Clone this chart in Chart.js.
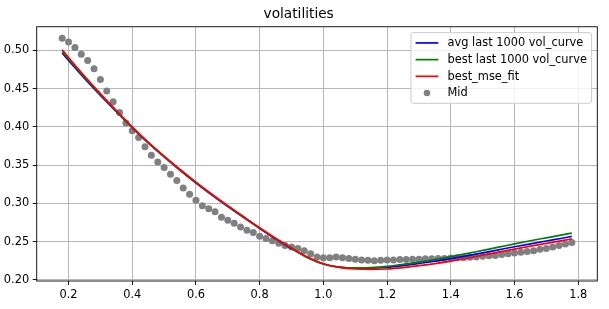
<!DOCTYPE html>
<html>
<head>
<meta charset="utf-8">
<script src="https://cdn.jsdelivr.net/npm/chart.js@4.4.1/dist/chart.umd.min.js"></script>
<style>
  html, body { margin: 0; padding: 0; background: #fff; }
  #wrap { width: 609px; height: 309px; }
</style>
</head>
<body>
<div id="wrap"><canvas id="volChart" width="609" height="309"></canvas></div>
<script>
// volatilities: three fitted vol curves against mid vols

const curveX = [0.18, 0.20, 0.25, 0.30, 0.35, 0.40, 0.45, 0.50, 0.55, 0.60, 0.65, 0.70,
  0.75, 0.80, 0.85, 0.90, 0.95, 1.00, 1.05, 1.10, 1.15, 1.20, 1.25, 1.30,
  1.35, 1.40, 1.45, 1.50, 1.55, 1.60, 1.65, 1.70, 1.75, 1.78];
const avgCurve = [0.4966, 0.4868, 0.4635, 0.4413, 0.4199, 0.3988, 0.3790, 0.3607, 0.3433, 0.3267, 0.3110, 0.2960,
  0.2815, 0.2672, 0.2535, 0.2408, 0.2292, 0.2208, 0.2166, 0.2152, 0.2151, 0.2164, 0.2186, 0.2214,
  0.2244, 0.2277, 0.2314, 0.2353, 0.2393, 0.2433, 0.2471, 0.2508, 0.2544, 0.2568];
const bestCurve = [0.4990, 0.4890, 0.4651, 0.4425, 0.4207, 0.3994, 0.3794, 0.3611, 0.3437, 0.3271, 0.3114, 0.2964,
  0.2819, 0.2676, 0.2539, 0.2412, 0.2294, 0.2208, 0.2168, 0.2157, 0.2160, 0.2177, 0.2203, 0.2233,
  0.2266, 0.2303, 0.2343, 0.2385, 0.2427, 0.2470, 0.2511, 0.2550, 0.2589, 0.2612];
const mseFit = [0.5010, 0.4908, 0.4665, 0.4435, 0.4215, 0.4000, 0.3800, 0.3617, 0.3443, 0.3277, 0.3120, 0.2970,
  0.2825, 0.2682, 0.2545, 0.2418, 0.2298, 0.2210, 0.2163, 0.2142, 0.2136, 0.2142, 0.2160, 0.2185,
  0.2213, 0.2246, 0.2283, 0.2322, 0.2362, 0.2402, 0.2440, 0.2477, 0.2513, 0.2535];

const midX = [0.18, 0.20, 0.22, 0.24, 0.26, 0.28, 0.30, 0.32, 0.34, 0.36,
  0.38, 0.40, 0.42, 0.44, 0.46, 0.48, 0.50, 0.52, 0.54, 0.56,
  0.58, 0.60, 0.62, 0.64, 0.66, 0.68, 0.70, 0.72, 0.74, 0.76,
  0.78, 0.80, 0.82, 0.84, 0.86, 0.88, 0.90, 0.92, 0.94, 0.96,
  0.98, 1.00, 1.02, 1.04, 1.06, 1.08, 1.10, 1.12, 1.14, 1.16,
  1.18, 1.20, 1.22, 1.24, 1.26, 1.28, 1.30, 1.32, 1.34, 1.36,
  1.38, 1.40, 1.42, 1.44, 1.46, 1.48, 1.50, 1.52, 1.54, 1.56,
  1.58, 1.60, 1.62, 1.64, 1.66, 1.68, 1.70, 1.72, 1.74, 1.76, 1.78];
const midVol = [0.516, 0.511, 0.504, 0.495, 0.487, 0.476, 0.462, 0.447, 0.433, 0.419,
  0.405, 0.395, 0.386, 0.374, 0.363, 0.354, 0.347, 0.338, 0.330, 0.320,
  0.312, 0.304, 0.297, 0.293, 0.289, 0.282, 0.278, 0.274, 0.269, 0.265,
  0.262, 0.257, 0.254, 0.251, 0.248, 0.245, 0.243, 0.241, 0.238, 0.234,
  0.230, 0.229, 0.229, 0.230, 0.229, 0.228, 0.227, 0.226, 0.2255, 0.225,
  0.2255, 0.226, 0.226, 0.2265, 0.2265, 0.227, 0.227, 0.2275, 0.2275, 0.228,
  0.228, 0.2285, 0.229, 0.229, 0.2295, 0.230, 0.231, 0.2315, 0.232, 0.233,
  0.234, 0.235, 0.236, 0.237, 0.238, 0.240, 0.241, 0.243, 0.245, 0.247, 0.249];

const xTicks = [0.2, 0.4, 0.6, 0.8, 1.0, 1.2, 1.4, 1.6, 1.8];
const yTicks = [0.20, 0.25, 0.30, 0.35, 0.40, 0.45, 0.50];

const FONT = "DejaVu Sans";
const FS = 11.4;

function pts(xs, ys) { return xs.map((x, i) => ({ x: x, y: ys[i] })); }

function lineSet(label, color, ys, order) {
  return {
    type: "line", label: label, data: pts(curveX, ys),
    borderColor: color, backgroundColor: color, borderWidth: 1.7,
    pointRadius: 0, fill: false, cubicInterpolationMode: "monotone", order: order
  };
}

// black frame round the axes, like matplotlib spines
const framePlugin = {
  id: "frame",
  afterDatasetsDraw(chart) {
    const a = chart.chartArea, ctx = chart.ctx;
    ctx.save();
    ctx.strokeStyle = "#000";
    ctx.lineWidth = 0.9;
    ctx.strokeRect(a.left, a.top, a.right - a.left, a.bottom - a.top);
    ctx.restore();
  }
};

// legend box in the upper right of the plot area
const boxLegend = {
  id: "boxLegend",
  afterDraw(chart) {
    const ctx = chart.ctx, a = chart.chartArea;
    const sets = chart.data.datasets;
    ctx.save();
    ctx.font = FS + "px '" + FONT + "'";
    const tw = Math.max(...sets.map(d => ctx.measureText(d.label).width));
    const pad = 4.6, handle = 22.8, gap = 9.1, row = 16.7;
    const w = pad + handle + gap + tw + pad;
    const h = 10.3 + row * (sets.length - 1) + 10.3;
    const right = a.right - 5.7, top = a.top + 5.9;
    const left = right - w;
    ctx.beginPath();
    ctx.roundRect(left, top, w, h, 2.3);
    ctx.fillStyle = "rgba(255,255,255,0.8)";
    ctx.fill();
    ctx.strokeStyle = "#cccccc";
    ctx.lineWidth = 1;
    ctx.stroke();
    sets.forEach((d, i) => {
      const y = top + 10.3 + i * row;
      const hx = left + pad;
      if (d.type === "line") {
        ctx.beginPath();
        ctx.moveTo(hx, y);
        ctx.lineTo(hx + handle, y);
        ctx.strokeStyle = d.borderColor;
        ctx.lineWidth = d.borderWidth;
        ctx.stroke();
      } else {
        ctx.beginPath();
        ctx.arc(hx + handle / 2, y, 3.3, 0, Math.PI * 2);
        ctx.fillStyle = d.backgroundColor;
        ctx.fill();
      }
      ctx.fillStyle = "#000";
      ctx.textBaseline = "middle";
      ctx.textAlign = "left";
      ctx.fillText(d.label, hx + handle + gap, y + 0.5);
    });
    ctx.restore();
  }
};

Chart.defaults.font.family = FONT;
Chart.defaults.font.size = FS;
Chart.defaults.color = "#000";

new Chart(document.getElementById("volChart"), {
  type: "scatter",
  data: {
    datasets: [
      lineSet("avg last 1000 vol_curve", "#0000ff", avgCurve, 3),
      lineSet("best last 1000 vol_curve", "#008000", bestCurve, 2),
      lineSet("best_mse_fit", "#ff0000", mseFit, 1),
      {
        type: "scatter", label: "Mid", data: pts(midX, midVol),
        backgroundColor: "#808080", borderWidth: 0, pointRadius: 3.5,
        pointHoverRadius: 3.5, order: 4
      }
    ]
  },
  options: {
    responsive: false,
    animation: false,
    devicePixelRatio: 1,
    layout: { padding: { top: 0, right: 11.7, left: 0, bottom: 0 } },
    plugins: {
      legend: { display: false },
      tooltip: { enabled: false },
      title: {
        display: true, text: "volatilities", color: "#000",
        font: { family: FONT, size: 13.7, weight: "normal" },
        padding: { top: 6.5, bottom: 3.8 }
      }
    },
    scales: {
      x: {
        type: "linear", position: "bottom", min: 0.1, max: 1.86,
        afterBuildTicks: s => { s.ticks = xTicks.map(v => ({ value: v })); },
        afterFit: s => { s.height = 28; },
        ticks: { callback: v => v.toFixed(1), padding: 3.5, maxRotation: 0, autoSkip: false },
        grid: { color: "#b0b0b0", lineWidth: 0.9, tickColor: "#000", tickLength: 4, tickWidth: 0.9 },
        border: { display: false }
      },
      y: {
        type: "linear", position: "left", min: 0.1985, max: 0.531,
        afterBuildTicks: s => { s.ticks = yTicks.map(v => ({ value: v })); },
        afterFit: s => { s.width = 36.7; },
        ticks: { callback: v => v.toFixed(2), padding: 3.5, autoSkip: false },
        grid: { color: "#b0b0b0", lineWidth: 0.9, tickColor: "#000", tickLength: 4, tickWidth: 0.9 },
        border: { display: false }
      }
    }
  },
  plugins: [framePlugin, boxLegend]
});
</script>
</body>
</html>
